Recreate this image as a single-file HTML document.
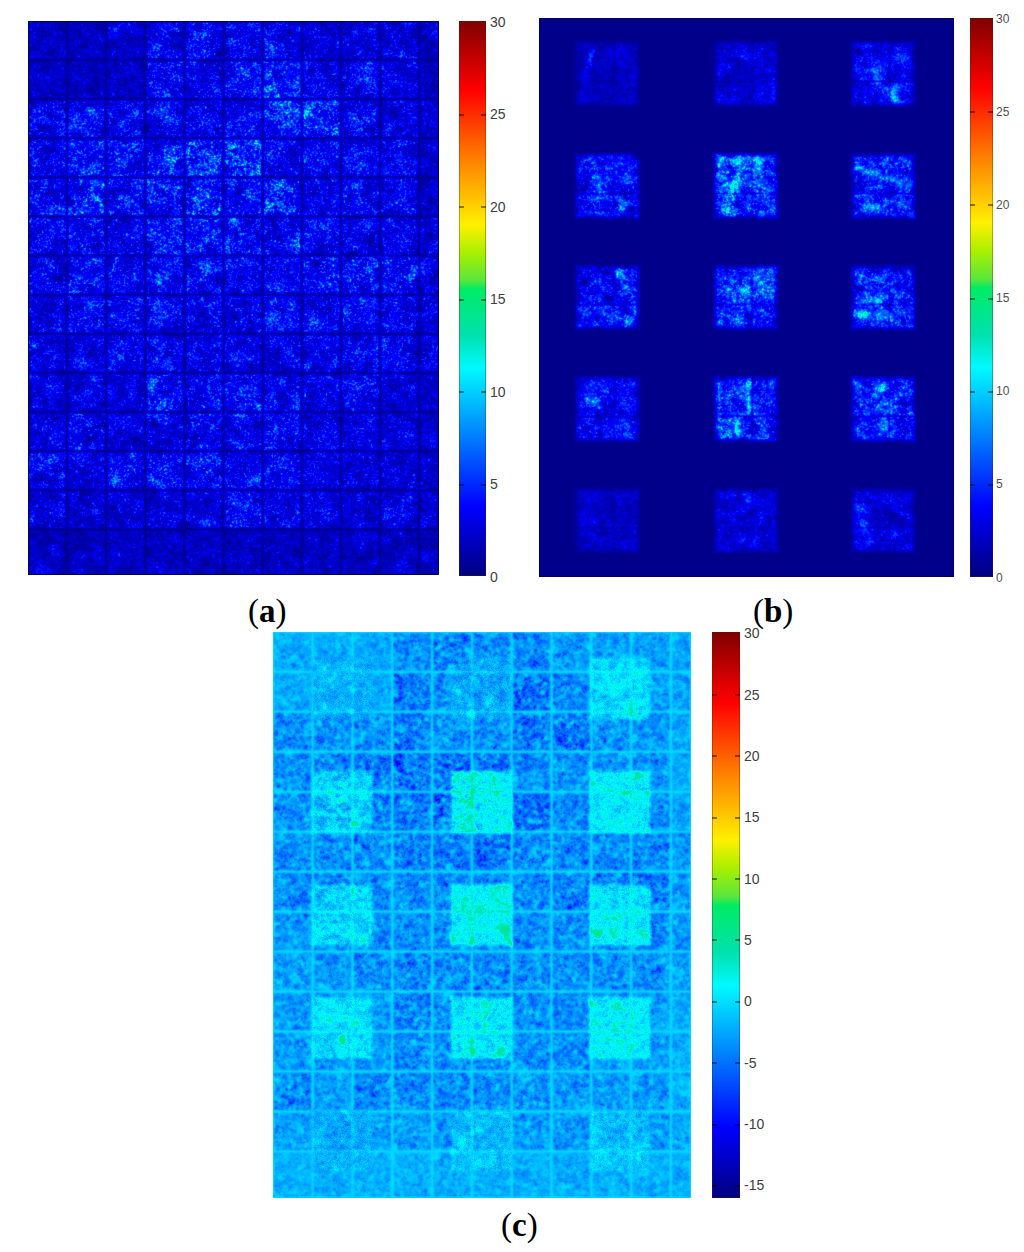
<!DOCTYPE html>
<html><head><meta charset="utf-8">
<style>
html,body{margin:0;padding:0;background:#fff;width:1024px;height:1252px;overflow:hidden;}
body{position:relative;font-family:"Liberation Sans",sans-serif;}
.pn{position:absolute;display:block;filter:blur(0.45px);}
#pa{left:28px;top:21px;width:411px;height:554px;background:linear-gradient(rgba(0,0,150,.8),rgba(0,0,150,.8)) 38.0px 0/2px 554px no-repeat,linear-gradient(rgba(0,0,150,.8),rgba(0,0,150,.8)) 77.2px 0/2px 554px no-repeat,linear-gradient(rgba(0,0,150,.8),rgba(0,0,150,.8)) 116.3px 0/2px 554px no-repeat,linear-gradient(rgba(0,0,150,.8),rgba(0,0,150,.8)) 155.4px 0/2px 554px no-repeat,linear-gradient(rgba(0,0,150,.8),rgba(0,0,150,.8)) 194.6px 0/2px 554px no-repeat,linear-gradient(rgba(0,0,150,.8),rgba(0,0,150,.8)) 233.7px 0/2px 554px no-repeat,linear-gradient(rgba(0,0,150,.8),rgba(0,0,150,.8)) 272.8px 0/2px 554px no-repeat,linear-gradient(rgba(0,0,150,.8),rgba(0,0,150,.8)) 311.9px 0/2px 554px no-repeat,linear-gradient(rgba(0,0,150,.8),rgba(0,0,150,.8)) 351.1px 0/2px 554px no-repeat,linear-gradient(rgba(0,0,150,.8),rgba(0,0,150,.8)) 390.2px 0/2px 554px no-repeat,linear-gradient(rgba(0,0,150,.8),rgba(0,0,150,.8)) 0 38.1px/411px 2px no-repeat,linear-gradient(rgba(0,0,150,.8),rgba(0,0,150,.8)) 0 77.2px/411px 2px no-repeat,linear-gradient(rgba(0,0,150,.8),rgba(0,0,150,.8)) 0 116.3px/411px 2px no-repeat,linear-gradient(rgba(0,0,150,.8),rgba(0,0,150,.8)) 0 155.4px/411px 2px no-repeat,linear-gradient(rgba(0,0,150,.8),rgba(0,0,150,.8)) 0 194.5px/411px 2px no-repeat,linear-gradient(rgba(0,0,150,.8),rgba(0,0,150,.8)) 0 233.6px/411px 2px no-repeat,linear-gradient(rgba(0,0,150,.8),rgba(0,0,150,.8)) 0 272.7px/411px 2px no-repeat,linear-gradient(rgba(0,0,150,.8),rgba(0,0,150,.8)) 0 311.8px/411px 2px no-repeat,linear-gradient(rgba(0,0,150,.8),rgba(0,0,150,.8)) 0 351.0px/411px 2px no-repeat,linear-gradient(rgba(0,0,150,.8),rgba(0,0,150,.8)) 0 390.1px/411px 2px no-repeat,linear-gradient(rgba(0,0,150,.8),rgba(0,0,150,.8)) 0 429.2px/411px 2px no-repeat,linear-gradient(rgba(0,0,150,.8),rgba(0,0,150,.8)) 0 468.3px/411px 2px no-repeat,linear-gradient(rgba(0,0,150,.8),rgba(0,0,150,.8)) 0 507.4px/411px 2px no-repeat,#0008d7;}
#pb{left:539px;top:18px;width:415px;height:559px;background:linear-gradient(rgb(0,1,193),rgb(0,1,193)) 38px 25px/61px 62px no-repeat,linear-gradient(rgb(0,1,209),rgb(0,1,209)) 176px 25px/61px 62px no-repeat,linear-gradient(rgb(0,17,233),rgb(0,17,233)) 313px 25px/61px 62px no-repeat,linear-gradient(rgb(0,22,239),rgb(0,22,239)) 38px 137px/61px 62px no-repeat,linear-gradient(rgb(0,69,250),rgb(0,69,250)) 176px 137px/61px 62px no-repeat,linear-gradient(rgb(0,39,245),rgb(0,39,245)) 313px 137px/61px 62px no-repeat,linear-gradient(rgb(0,23,237),rgb(0,23,237)) 38px 249px/61px 61px no-repeat,linear-gradient(rgb(0,46,248),rgb(0,46,248)) 176px 249px/61px 61px no-repeat,linear-gradient(rgb(0,43,245),rgb(0,43,245)) 313px 249px/61px 61px no-repeat,linear-gradient(rgb(0,15,236),rgb(0,15,236)) 38px 360px/61px 62px no-repeat,linear-gradient(rgb(0,45,246),rgb(0,45,246)) 176px 360px/61px 62px no-repeat,linear-gradient(rgb(0,35,245),rgb(0,35,245)) 313px 360px/61px 62px no-repeat,linear-gradient(rgb(0,0,195),rgb(0,0,195)) 38px 472px/61px 61px no-repeat,linear-gradient(rgb(0,2,212),rgb(0,2,212)) 176px 472px/61px 61px no-repeat,linear-gradient(rgb(0,4,216),rgb(0,4,216)) 313px 472px/61px 61px no-repeat,#000088;}
#pc{left:273px;top:632px;width:418px;height:566px;background:linear-gradient(rgb(0,215,255),rgb(0,215,255)) 38.2px 0/3px 566px no-repeat,linear-gradient(rgb(0,215,255),rgb(0,215,255)) 78.0px 0/3px 566px no-repeat,linear-gradient(rgb(0,215,255),rgb(0,215,255)) 117.8px 0/3px 566px no-repeat,linear-gradient(rgb(0,215,255),rgb(0,215,255)) 157.6px 0/3px 566px no-repeat,linear-gradient(rgb(0,215,255),rgb(0,215,255)) 197.4px 0/3px 566px no-repeat,linear-gradient(rgb(0,215,255),rgb(0,215,255)) 237.2px 0/3px 566px no-repeat,linear-gradient(rgb(0,215,255),rgb(0,215,255)) 277.0px 0/3px 566px no-repeat,linear-gradient(rgb(0,215,255),rgb(0,215,255)) 316.8px 0/3px 566px no-repeat,linear-gradient(rgb(0,215,255),rgb(0,215,255)) 356.6px 0/3px 566px no-repeat,linear-gradient(rgb(0,215,255),rgb(0,215,255)) 396.4px 0/3px 566px no-repeat,linear-gradient(rgb(0,215,255),rgb(0,215,255)) 0 38.4px/418px 3px no-repeat,linear-gradient(rgb(0,215,255),rgb(0,215,255)) 0 78.4px/418px 3px no-repeat,linear-gradient(rgb(0,215,255),rgb(0,215,255)) 0 118.3px/418px 3px no-repeat,linear-gradient(rgb(0,215,255),rgb(0,215,255)) 0 158.3px/418px 3px no-repeat,linear-gradient(rgb(0,215,255),rgb(0,215,255)) 0 198.2px/418px 3px no-repeat,linear-gradient(rgb(0,215,255),rgb(0,215,255)) 0 238.2px/418px 3px no-repeat,linear-gradient(rgb(0,215,255),rgb(0,215,255)) 0 278.2px/418px 3px no-repeat,linear-gradient(rgb(0,215,255),rgb(0,215,255)) 0 318.1px/418px 3px no-repeat,linear-gradient(rgb(0,215,255),rgb(0,215,255)) 0 358.1px/418px 3px no-repeat,linear-gradient(rgb(0,215,255),rgb(0,215,255)) 0 398.0px/418px 3px no-repeat,linear-gradient(rgb(0,215,255),rgb(0,215,255)) 0 438.0px/418px 3px no-repeat,linear-gradient(rgb(0,215,255),rgb(0,215,255)) 0 478.0px/418px 3px no-repeat,linear-gradient(rgb(0,215,255),rgb(0,215,255)) 0 517.9px/418px 3px no-repeat,linear-gradient(rgb(0,180,255),rgb(0,180,255)) 38px 25px/62px 63px no-repeat,linear-gradient(rgb(0,174,255),rgb(0,174,255)) 178px 25px/61px 63px no-repeat,linear-gradient(rgb(0,218,252),rgb(0,218,252)) 316px 25px/62px 63px no-repeat,linear-gradient(rgb(0,208,252),rgb(0,208,252)) 38px 139px/62px 62px no-repeat,linear-gradient(rgb(0,232,234),rgb(0,232,234)) 178px 139px/61px 62px no-repeat,linear-gradient(rgb(0,229,245),rgb(0,229,245)) 316px 139px/62px 62px no-repeat,linear-gradient(rgb(0,212,253),rgb(0,212,253)) 38px 252px/62px 62px no-repeat,linear-gradient(rgb(0,234,232),rgb(0,234,232)) 178px 252px/61px 62px no-repeat,linear-gradient(rgb(0,225,243),rgb(0,225,243)) 316px 252px/62px 62px no-repeat,linear-gradient(rgb(0,220,250),rgb(0,220,250)) 38px 365px/62px 62px no-repeat,linear-gradient(rgb(0,227,243),rgb(0,227,243)) 178px 365px/61px 62px no-repeat,linear-gradient(rgb(0,231,243),rgb(0,231,243)) 316px 365px/62px 62px no-repeat,linear-gradient(rgb(0,177,255),rgb(0,177,255)) 38px 478px/62px 62px no-repeat,linear-gradient(rgb(0,193,255),rgb(0,193,255)) 178px 478px/61px 62px no-repeat,linear-gradient(rgb(0,196,255),rgb(0,196,255)) 316px 478px/62px 62px no-repeat,#00a0fd;}
.cb{position:absolute;box-shadow:inset 0 0 0 1px rgba(60,40,0,.35);background:linear-gradient(to bottom,rgb(128,0,0) 0%,rgb(255,0,0) 12.5%,rgb(255,128,0) 25%,rgb(255,240,0) 36.7%,rgb(170,240,0) 41.7%,rgb(90,230,60) 46.7%,rgb(0,235,100) 48.3%,rgb(0,225,175) 56.7%,rgb(0,250,255) 62.5%,rgb(0,0,255) 87.5%,rgb(0,0,128) 100%);}
#cba{left:459px;top:21px;width:27px;height:555px;}
#cbb{left:970px;top:18px;width:23px;height:559px;}
#cbc{left:712px;top:632px;width:28px;height:566px;}
.tk{position:absolute;height:2px;margin-top:-0.5px;background:rgba(0,0,0,.45);width:5px;}
.lb{position:absolute;color:#404040;font-size:14px;line-height:14px;white-space:nowrap;}
.lbs{font-size:12px;line-height:12px;color:#505050;}
.pl{position:absolute;font-family:"Liberation Serif",serif;font-size:33px;line-height:33px;color:#000;white-space:nowrap;}
.pl b{font-weight:bold;}
</style></head>
<body>
<canvas id="pa" class="pn" width="411" height="554"></canvas>
<canvas id="pb" class="pn" width="415" height="559"></canvas>
<canvas id="pc" class="pn" width="418" height="566"></canvas>
<div id="cba" class="cb"></div>
<div id="cbb" class="cb"></div>
<div id="cbc" class="cb"></div>
<div id="labels">
<div class="lb " style="left:490px;top:14.5px">30</div>
<div class="lb " style="left:490px;top:107.0px">25</div>
<div class="tk" style="left:459px;top:114px"></div>
<div class="tk" style="left:481px;top:114px"></div>
<div class="lb " style="left:490px;top:199.5px">20</div>
<div class="tk" style="left:459px;top:206px"></div>
<div class="tk" style="left:481px;top:206px"></div>
<div class="lb " style="left:490px;top:292.0px">15</div>
<div class="tk" style="left:459px;top:299px"></div>
<div class="tk" style="left:481px;top:299px"></div>
<div class="lb " style="left:490px;top:384.5px">10</div>
<div class="tk" style="left:459px;top:391px"></div>
<div class="tk" style="left:481px;top:391px"></div>
<div class="lb " style="left:490px;top:477.0px">5</div>
<div class="tk" style="left:459px;top:484px"></div>
<div class="tk" style="left:481px;top:484px"></div>
<div class="lb " style="left:490px;top:569.5px">0</div>
<div class="lb lbs" style="left:996px;top:12.5px">30</div>
<div class="lb lbs" style="left:996px;top:105.7px">25</div>
<div class="tk" style="left:970px;top:111px"></div>
<div class="tk" style="left:988px;top:111px"></div>
<div class="lb lbs" style="left:996px;top:198.8px">20</div>
<div class="tk" style="left:970px;top:204px"></div>
<div class="tk" style="left:988px;top:204px"></div>
<div class="lb lbs" style="left:996px;top:292.0px">15</div>
<div class="tk" style="left:970px;top:298px"></div>
<div class="tk" style="left:988px;top:298px"></div>
<div class="lb lbs" style="left:996px;top:385.2px">10</div>
<div class="tk" style="left:970px;top:391px"></div>
<div class="tk" style="left:988px;top:391px"></div>
<div class="lb lbs" style="left:996px;top:478.3px">5</div>
<div class="tk" style="left:970px;top:484px"></div>
<div class="tk" style="left:988px;top:484px"></div>
<div class="lb lbs" style="left:996px;top:571.5px">0</div>
<div class="lb " style="left:744px;top:626.2px">30</div>
<div class="lb " style="left:744px;top:687.6px">25</div>
<div class="tk" style="left:712px;top:694px"></div>
<div class="tk" style="left:735px;top:694px"></div>
<div class="lb " style="left:744px;top:748.9px">20</div>
<div class="tk" style="left:712px;top:755px"></div>
<div class="tk" style="left:735px;top:755px"></div>
<div class="lb " style="left:744px;top:810.3px">15</div>
<div class="tk" style="left:712px;top:817px"></div>
<div class="tk" style="left:735px;top:817px"></div>
<div class="lb " style="left:744px;top:871.6px">10</div>
<div class="tk" style="left:712px;top:878px"></div>
<div class="tk" style="left:735px;top:878px"></div>
<div class="lb " style="left:744px;top:933.0px">5</div>
<div class="tk" style="left:712px;top:939px"></div>
<div class="tk" style="left:735px;top:939px"></div>
<div class="lb " style="left:744px;top:994.4px">0</div>
<div class="tk" style="left:712px;top:1001px"></div>
<div class="tk" style="left:735px;top:1001px"></div>
<div class="lb " style="left:744px;top:1055.7px">-5</div>
<div class="tk" style="left:712px;top:1062px"></div>
<div class="tk" style="left:735px;top:1062px"></div>
<div class="lb " style="left:744px;top:1117.1px">-10</div>
<div class="tk" style="left:712px;top:1124px"></div>
<div class="tk" style="left:735px;top:1124px"></div>
<div class="lb " style="left:744px;top:1178.4px">-15</div>
<div class="tk" style="left:712px;top:1185px"></div>
<div class="tk" style="left:735px;top:1185px"></div>
</div>
<div class="pl" style="left:248px;top:595px;">(<b>a</b>)</div>
<div class="pl" style="left:753px;top:595px;">(<b>b</b>)</div>
<div class="pl" style="left:501px;top:1209px;">(<b>c</b>)</div>


<script>
(function(){
function mkrng(seed){return function(){seed|=0;seed=seed+0x6D2B79F5|0;var t=Math.imul(seed^seed>>>15,1|seed);t=t+Math.imul(t^t>>>7,61|t)^t;return((t^t>>>14)>>>0)/4294967296;};}
function cl(x){return x<0?0:(x>1?1:x);}
var STP=[[0,0,0,128],[0.125,0,0,255],[0.375,0,250,255],[0.433,0,225,175],[0.517,0,235,100],[0.533,90,230,60],[0.583,170,240,0],[0.633,255,240,0],[0.75,255,128,0],[0.875,255,0,0],[1,128,0,0]];
var LUT=new Uint8Array(1024*3);
(function(){for(var k=0;k<1024;k++){var t=k/1023,j=0;while(j<STP.length-2&&t>STP[j+1][0])j++;var a=STP[j],b=STP[j+1],w=(t-a[0])/(b[0]-a[0]);
 for(var c=0;c<3;c++)LUT[k*3+c]=Math.round(a[c+1]+(b[c+1]-a[c+1])*w);}})();
function jet(t,o,i){t=cl(t);var k=Math.round(t*1023)*3;o[i]=LUT[k];o[i+1]=LUT[k+1];o[i+2]=LUT[k+2];o[i+3]=255;}
/* level map for (a): 14 rows x 11 cols, brightness score */
var LV=[
[1.4,1.4,1.5,2.5,3.0,2.5,2.5,2.0,2.0,2.0,1.5],
[1.4,1.4,1.5,3.0,2.5,3.0,3.5,2.5,2.5,2.0,1.5],
[2.5,2.5,2.5,3.0,2.5,2.5,3.0,3.5,2.5,2.0,1.5],
[2.5,3.0,3.0,3.5,3.5,3.5,2.5,2.5,2.5,2.5,1.5],
[2.5,3.5,3.0,3.0,3.5,3.0,3.5,2.5,2.5,2.5,1.5],
[2.5,2.5,2.5,3.0,3.0,3.0,3.0,2.5,2.5,2.5,2.0],
[2.5,3.0,2.5,2.5,2.5,2.5,2.5,3.0,3.0,3.0,2.0],
[2.0,2.5,2.5,2.5,2.5,2.5,2.5,2.5,2.5,2.5,2.0],
[2.0,2.0,2.5,2.5,2.5,2.5,2.5,2.5,2.5,2.5,2.0],
[2.0,2.0,2.0,3.0,2.5,3.0,2.5,2.5,2.5,2.0,1.5],
[2.0,2.5,2.0,2.5,2.5,2.5,2.5,2.5,2.0,2.0,1.5],
[2.5,2.0,2.5,2.5,2.5,2.5,2.5,2.0,2.0,2.0,1.5],
[2.0,2.0,2.0,2.0,2.0,2.5,2.0,2.0,2.0,2.0,1.5],
[1.3,1.3,1.3,1.3,1.3,1.3,1.3,1.3,1.3,1.3,1.2]];
/* grid in normalized coords */
var GX0=0.095,GDX=0.0952,GY0=0.0705,GDY=0.0706;
function cellOf(u,v){var cx=Math.floor((u-GX0)/GDX)+1,cy=Math.floor((v-GY0)/GDY)+1;if(cx<0)cx=0;if(cx>10)cx=10;if(cy<0)cy=0;if(cy>13)cy=13;return [cx,cy];}
function gridDist(u,v,W,H){
  var fx=(u-GX0)/GDX, fy=(v-GY0)/GDY;
  var dx=Math.abs(fx-Math.round(fx))*GDX*W; var dy=Math.abs(fy-Math.round(fy))*GDY*H;
  if(fx<-0.5)dx=1e9; if(Math.round(fx)>9)dx=1e9; if(fy<-0.5)dy=1e9; if(Math.round(fy)>12)dy=1e9;
  var e=Math.min(u*W+0.5,(1-u)*W+0.5,v*H+0.5,(1-v)*H+0.5);
  return Math.min(dx,dy,e);
}
/* patches (normalized, from panel b) */
var PCX=[[38,99],[176,237],[313,374]], PRY=[[25,87],[137,199],[249,310],[360,422],[472,533]];
var PLV=[[1.5,2.3,3.0],[4.2,4.8,4.2],[3.8,4.5,4.3],[3.6,4.3,4.0],[1.8,2.4,2.4]];
var FEAT=[[0,0,.25,.15,.12,.6,2.5,2.5],[0,2,.45,.65,.75,.95,3,3.5],[0,2,.1,.45,.5,.45,2,2],
[1,1,.35,.08,.75,.08,3.5,4],[1,1,.25,.5,.7,.25,2.5,3],[1,2,.05,.2,.95,.5,2,3.5],[1,2,.2,.85,.4,.85,3,3.5],
[2,2,.05,.55,.6,.55,2.5,3],[2,2,.05,.8,.6,.8,3,3.5],[2,0,.7,.1,.8,.3,3,3],[2,0,.6,.8,.85,.9,3,3],[2,1,.3,.25,.5,.35,3,3],
[3,1,.55,.0,.55,.55,1.8,5],[3,1,.35,.7,.4,.95,3,3],[3,2,.45,.1,.55,.9,5,2.5],[3,0,.2,.35,.3,.45,3,3],
[4,1,.5,.1,.6,.3,3,2.5],[4,1,.65,.85,.65,.85,3,3.5],[4,2,.15,.3,.25,.8,4,2]];
function segd(px,py,x1,y1,x2,y2){var dx=x2-x1,dy=y2-y1,l=dx*dx+dy*dy,t=l?((px-x1)*dx+(py-y1)*dy)/l:0;t=t<0?0:(t>1?1:t);var ex=px-x1-t*dx,ey=py-y1-t*dy;return ex*ex+ey*ey;}
function patchAt(u,v){
  var x=u*414,y=v*559;
  for(var r=0;r<5;r++){var ry=PRY[r];if(y<ry[0]-3||y>ry[1]+3)continue;
    for(var c=0;c<3;c++){var rx=PCX[c];if(x<rx[0]-3||x>rx[1]+3)continue;
      var ex=Math.min(x-rx[0],rx[1]-x),ey=Math.min(y-ry[0],ry[1]-y);var e=Math.min(ex,ey);
      var f=cl((e+3)/6);
      var pw=rx[1]-rx[0],ph=ry[1]-ry[0];
      var mx=Math.abs(x-(rx[0]+0.6*pw)),my=Math.abs(y-(ry[0]+0.62*ph));
      var cr=1-0.5*Math.exp(-mx*mx/0.6)-0.5*Math.exp(-my*my/0.6);if(cr<0.1)cr=0.1;
      var L=PLV[r][c],G=0;
      for(var k=0;k<FEAT.length;k++){var F=FEAT[k];if(F[0]!=r||F[1]!=c)continue;
        var d2=segd(x,y,rx[0]+F[2]*pw,ry[0]+F[3]*ph,rx[0]+F[4]*pw,ry[0]+F[5]*ph);G+=F[7]*Math.exp(-d2/(2*F[6]*F[6]));}
      PG=G*f*cr;return L*f*cr;}}
  PG=0;return 0;
}
var PG=0;
var CLV=[[-1.5,-1.5,0.0],[0.0,1.0,0.5],[0.0,1.0,0.5],[0.0,0.5,0.5],[-1.5,-1.0,-1.0]];
function patchC(u,v){
  var x=u*414,y=v*559;
  for(var r=0;r<5;r++){var ry=PRY[r];if(y<ry[0]-3||y>ry[1]+3)continue;
    for(var c=0;c<3;c++){var rx=PCX[c];if(x<rx[0]-3||x>rx[1]+3)continue;
      var ex=Math.min(x-rx[0],rx[1]-x),ey=Math.min(y-ry[0],ry[1]-y);var e=Math.min(ex,ey);
      return [cl((e+2)/4),CLV[r][c]];}}
  return [0,0];
}
function boxBlur(f,W,H,r){
  var t=new Float32Array(W*H),n=2*r+1;
  for(var y=0;y<H;y++){var o=y*W,acc=0;
    for(var k=-r;k<=r;k++){acc+=f[o+Math.min(W-1,Math.max(0,k))];}
    for(var x=0;x<W;x++){t[o+x]=acc/n;acc+=f[o+Math.min(W-1,x+r+1)]-f[o+Math.max(0,x-r)];}}
  for(var x=0;x<W;x++){var acc=0;
    for(var k=-r;k<=r;k++){acc+=t[Math.min(H-1,Math.max(0,k))*W+x];}
    for(var y=0;y<H;y++){f[y*W+x]=acc/n;acc+=t[Math.min(H-1,y+r+1)*W+x]-t[Math.max(0,y-r)*W+x];}}
}
function gnoise(W,H,r,p,rnd){
  var f=new Float32Array(W*H),i;for(i=0;i<f.length;i++)f[i]=rnd()-0.5;
  for(var k=0;k<p;k++)boxBlur(f,W,H,r);
  var m=0,q=0;for(i=0;i<f.length;i++){m+=f[i];q+=f[i]*f[i];}m/=f.length;q=Math.sqrt(q/f.length-m*m);
  for(i=0;i<f.length;i++)f[i]=(f[i]-m)/q;return f;
}
function blur(f,W,H,n){
  var t=new Float32Array(W*H);
  for(var k=0;k<n;k++){
    for(var y=0;y<H;y++)for(var x=0;x<W;x++){var i=y*W+x;var l=x>0?f[i-1]:f[i],r=x<W-1?f[i+1]:f[i];t[i]=(l+3*f[i]+r)/5;}
    for(var y=0;y<H;y++)for(var x=0;x<W;x++){var i=y*W+x;var u=y>0?t[i-W]:t[i],d=y<H-1?t[i+W]:t[i];f[i]=(u+3*t[i]+d)/5;}
  }
  return f;
}
function spk(rnd){return(-Math.log(1-rnd()*0.9999)-Math.log(1-rnd()*0.9999))*0.5;}
/* A field: speckled, per cell level */
function fieldA(W,H,seed,P){
  var rnd=mkrng(seed),f=new Float32Array(W*H);
  var bl=gnoise(W,H,P.br,2,rnd),bl2=gnoise(W,H,P.br2,3,rnd);
  for(var y=0;y<H;y++){var v=(y+0.5)/H;
    for(var x=0;x<W;x++){var u=(x+0.5)/W,i=y*W+x;var c=cellOf(u,v);var L=(P.l0+P.l1*LV[c[1]][c[0]])*P.k;
      var d=gridDist(u,v,W,H);
      var base=P.a0+P.bs*bl[i]+P.bs2*bl2[i];if(base<0.05)base=0.05;
      var dot=rnd()<P.dp*Math.exp(P.dc*bl2[i]-P.dc*P.dc/2)?P.da*(0.3+rnd()+0.5*rnd()*rnd()):0;
      var ef=(x==0||y==0||x==W-1||y==H-1)?P.ef:1;
      f[i]=ef*L*(base+dot)*(1-P.gd*Math.exp(-d*d/P.gw));}}
  blur(f,W,H,P.nb);
  return f;
}
function fieldB(W,H,seed,P){
  var rnd=mkrng(seed),f=new Float32Array(W*H);
  var bl=gnoise(W,H,P.br,2,rnd),bl2=gnoise(W,H,P.br2,3,rnd);
  for(var y=0;y<H;y++){var v=(y+0.5)/H;
    for(var x=0;x<W;x++){var u=(x+0.5)/W,i=y*W+x;var L=patchAt(u,v)*P.k;
      if(!L){f[i]=0;rnd();rnd();continue;}
      var base=P.a0+P.bs*bl[i]+P.bs2*bl2[i];if(base<0.02)base=0.02;
      var dot=rnd()<P.dp*Math.exp(P.dc*bl2[i]-P.dc*P.dc/2)?P.da*(0.3+rnd()+0.5*rnd()*rnd()):0;
      f[i]=L*(base+dot)+PG*P.fk*(0.5+0.5*base+0.4*dot);}}
  blur(f,W,H,P.nb);
  return f;
}
function paint(id,f,W,H,vmin,vmax,bc){
  var cv=document.getElementById(id),ctx=cv.getContext('2d'),im=ctx.createImageData(W,H),d=im.data;
  for(var i=0;i<W*H;i++)jet((f[i]-vmin)/(vmax-vmin),d,i*4);
  ctx.putImageData(im,0,0);
  if(bc){ctx.strokeStyle=bc;ctx.lineWidth=1;ctx.strokeRect(0.5,0.5,W-1,H-1);}
}
var PA={ef:0.2,l0:0.3,l1:0.8,k:1.62,a0:0.7,br:1,bs:0.15,br2:3,bs2:0.1,dp:0.16,da:1.6,dc:0.35,nb:1,gd:0.8,gw:2.0};
var fa=fieldA(411,554,11,PA);paint('pa',fa,411,554,0,30,'rgba(0,0,50,0.55)');
var PB={k:1.0,fk:1.0,a0:0.8,br:1,bs:0.2,br2:3,bs2:0.15,dp:0.18,da:1.3,dc:0.3,nb:1};
var fb=fieldB(415,559,22,PB);for(var i=0;i<fb.length;i++)fb[i]+=0.3;paint('pb',fb,415,559,0,30,'rgba(0,0,50,0.55)');
var PC={ef:0.2,l0:0.3,l1:0.8,k:1.75,a0:0.8,br:1,bs:0.28,br2:2,bs2:0.1,dp:0.12,da:1.0,dc:0.3,nb:1,gd:0.92,gw:2.4};
var ac=fieldA(418,566,33,PC);
(function(){var W=418,H=566,rnd=mkrng(55),bl=gnoise(W,H,3,3,rnd),bl2=gnoise(W,H,1,2,rnd);
 for(var y=0;y<H;y++){var v=(y+0.5)/H;for(var x=0;x<W;x++){var u=(x+0.5)/W,i=y*W+x;var p=patchC(u,v);
   if(!p[0]){ac[i]=-ac[i];continue;}
   var bx=Math.min(414,Math.floor(u*415)),by=Math.min(558,Math.floor(v*559));var bs=fb[by*415+bx];var gb=bl[i]-1.0;gb=gb>0?gb*2.0:0;var pc=p[1]-0.5+0.5*bs-0.5*ac[i]+gb+0.4*bl2[i]+2.0*(rnd()-0.5);
   ac[i]=-(1-p[0])*ac[i]+p[0]*pc;}}})();
for(var i=0;i<ac.length;i++){}
paint('pc',ac,418,566,-16,30);
})();
</script>
</body></html>
